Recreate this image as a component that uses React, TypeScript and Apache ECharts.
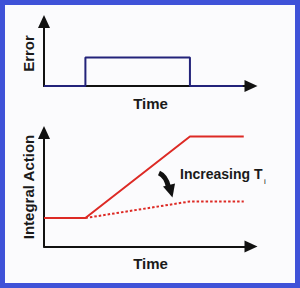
import { useEffect, useRef } from "react";
import * as echarts from "echarts";

// Top panel: error pulse
const errorTimes = [0, 20, 20, 70.5, 70.5, 96];
const errorValues = [0, 0, 44, 44, 0, 0];
// Bottom panel: integral action (small Ti) and dotted (increasing Ti)
const fastTimes = [0, 20, 70.5, 96.5];
const fastValues = [25, 25, 96.5, 96.5];
const slowTimes = [20, 70.5, 96.5];
const slowValues = [25, 39.5, 39.5];

const errorLabel = "Error";
const actionLabel = "Integral Action";
const timeLabel = "Time";
const noteLabel = "Increasing T";
const noteSub = "i";

const FONT = "'Liberation Sans', Arial, sans-serif";

function axisX(gridIndex: number) {
  return {
    type: "value" as const,
    gridIndex,
    min: 0,
    max: 100,
    axisLine: {
      show: true,
      onZero: false,
      symbol: ["none", "triangle"],
      symbolSize: [12, 13],
      lineStyle: { color: "#111111", width: 2 },
    },
    axisTick: { show: false },
    axisLabel: { show: false },
    splitLine: { show: false },
  };
}
function axisY(gridIndex: number) {
  return {
    type: "value" as const,
    gridIndex,
    min: 0,
    max: 100,
    axisLine: {
      show: true,
      onZero: false,
      symbol: ["none", "triangle"],
      symbolSize: [12, 13],
      lineStyle: { color: "#111111", width: 2 },
    },
    axisTick: { show: false },
    axisLabel: { show: false },
    splitLine: { show: false },
  };
}

const zip = (xs: number[], ys: number[]) => xs.map((x, i) => [x, ys[i]]);

export default function App() {
  const ref = useRef<HTMLDivElement>(null);
  useEffect(() => {
    if (!ref.current) return;
    const chart = echarts.init(ref.current, undefined, { renderer: "svg" });
    chart.setOption({
      animation: false,
      backgroundColor: "#fbfbfd",
      grid: [
        { left: 44, top: 21.5, right: 49, height: 64.5 },
        { left: 44, top: 132.5, right: 49, height: 114 },
      ],
      xAxis: [axisX(0), axisX(1)],
      yAxis: [axisY(0), axisY(1)],
      series: [
        {
          type: "line",
          xAxisIndex: 0,
          yAxisIndex: 0,
          data: zip(errorTimes, errorValues),
          symbol: "none",
          clip: false,
          z: 5,
          lineStyle: { color: "#23237a", width: 2 },
        },
        {
          type: "line",
          xAxisIndex: 1,
          yAxisIndex: 1,
          data: zip(fastTimes, fastValues),
          symbol: "none",
          clip: false,
          z: 5,
          lineStyle: { color: "#dd2a25", width: 2 },
        },
        {
          type: "line",
          xAxisIndex: 1,
          yAxisIndex: 1,
          data: zip(slowTimes, slowValues),
          symbol: "none",
          clip: false,
          z: 5,
          lineStyle: { color: "#dd2a25", width: 2, type: [2.5, 2] },
        },
      ],
      graphic: [
        {
          type: "rect",
          shape: { x: 2.5, y: 2.5, width: 295, height: 283 },
          style: { fill: "none", stroke: "#3f52d8", lineWidth: 5 },
        },
        {
          type: "text",
          x: 28,
          y: 53.5,
          rotation: Math.PI / 2,
          style: { text: errorLabel, font: `bold 15px ${FONT}`, fill: "#1a1a1a", align: "center", verticalAlign: "middle" },
        },
        {
          type: "text",
          x: 28,
          y: 187,
          rotation: Math.PI / 2,
          style: { text: actionLabel, font: `bold 15px ${FONT}`, fill: "#1a1a1a", align: "center", verticalAlign: "middle" },
        },
        {
          type: "text",
          x: 150.5,
          y: 103,
          style: { text: timeLabel, font: `bold 15px ${FONT}`, fill: "#1a1a1a", align: "center", verticalAlign: "middle" },
        },
        {
          type: "text",
          x: 150.5,
          y: 263,
          style: { text: timeLabel, font: `bold 15px ${FONT}`, fill: "#1a1a1a", align: "center", verticalAlign: "middle" },
        },
        {
          type: "text",
          x: 180,
          y: 174,
          style: { text: noteLabel, font: `bold 14px ${FONT}`, fill: "#1a1a1a", align: "left", verticalAlign: "middle" },
        },
        {
          type: "text",
          x: 264,
          y: 181,
          style: { text: noteSub, font: `8px ${FONT}`, fill: "#1a1a1a", align: "left", verticalAlign: "middle" },
        },
        {
          type: "bezierCurve",
          shape: { x1: 159, y1: 173, cpx1: 166, cpy1: 176, x2: 168.5, y2: 187 },
          style: { stroke: "#111111", lineWidth: 5, fill: "none" },
        },
        {
          type: "polygon",
          shape: { points: [[163, 186.5], [175, 183.5], [172.5, 197.5]] },
          style: { fill: "#111111" },
        },
      ],
    });
    return () => chart.dispose();
  }, []);
  return (
    <div
      ref={ref}
      style={{ position: "fixed", left: 0, top: 0, width: 300, height: 288 }}
    />
  );
}
